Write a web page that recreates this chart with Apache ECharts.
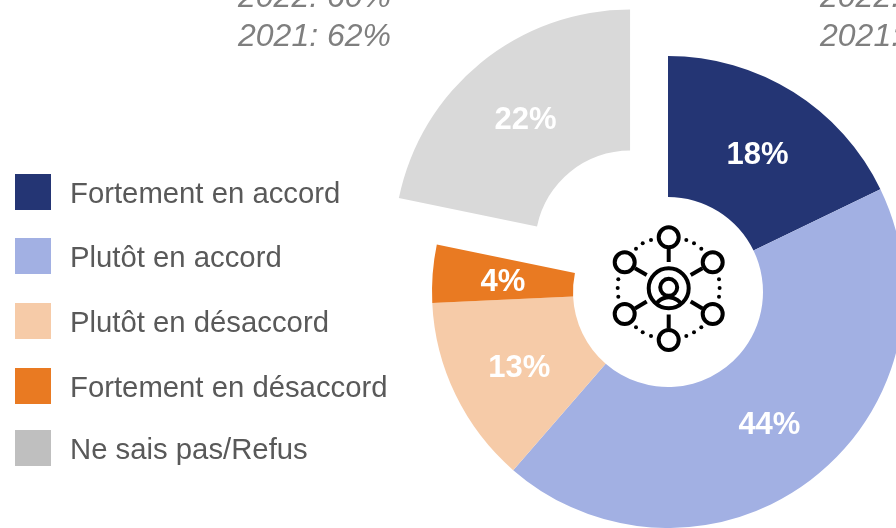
<!DOCTYPE html>
<html>
<head>
<meta charset="utf-8">
<style>html,body{margin:0;padding:0;background:#fff}#c{width:896px;height:528px}</style>
<script src="https://cdn.jsdelivr.net/npm/echarts@6/dist/echarts.min.js"></script>
</head>
<body>
<div id="c"></div>
<script>
const categories = ['Fortement en accord','Plutôt en accord','Plutôt en désaccord','Fortement en désaccord','Ne sais pas/Refus'];
const values = [18,44,13,4,22];
const sliceColors = ['#243574','#A2B0E3','#F6CBA8','#E97A22','#D9D9D9'];
const legendColors = ['#243574','#A2B0E3','#F6CBA8','#E97A22','#BFBFBF'];
const legendTops = [174,238,303,368,430];
const labelNudges = [[0,6],[-1,0],[3,3],[3,4],[2,6]];
const FONT = '"Liberation Sans", Arial, sans-serif';

const chart = echarts.init(document.getElementById('c'), null, {renderer:'canvas'});

const ICON = '#000';
const LW = 4;
function circle(cx,cy,r,lw){return {type:'circle',shape:{cx,cy,r},style:{fill:'#fff',stroke:ICON,lineWidth:lw||LW},z:10};}
function line(x1,y1,x2,y2){return {type:'line',shape:{x1,y1,x2,y2},style:{stroke:ICON,lineWidth:LW},z:10};}
function dot(cx,cy){return {type:'circle',shape:{cx,cy,r:2},style:{fill:ICON},z:10};}
const cx=668.7, cy=288.3;
const iconEls = [
  line(cx,248,cx,262), line(cx,314.5,cx,328.5),
  line(635,268.3,646.7,275), line(702.4,268.3,690.7,275),
  line(635,308.5,646.7,301.5), line(702.4,308.5,690.7,301.5),
  circle(cx,237.3,10), circle(cx,340,10),
  circle(624.7,262.3,10), circle(712.7,262.3,10),
  circle(624.7,314,10), circle(712.7,314,10),
  circle(cx,cy,20),
  circle(cx,287.3,8.5),
  {type:'arc',shape:{cx:cx,cy:312.3,r:15,startAngle:Math.PI*1.2,endAngle:Math.PI*1.8,clockwise:true},style:{stroke:ICON,lineWidth:LW,fill:'none'},z:10},
  dot(636,248.7),dot(642.7,243.3),dot(651,240),dot(686.3,240),dot(694,243.3),dot(701.3,248.7),
  dot(618.3,279.3),dot(617.7,288),dot(618.3,296.7),dot(719,279.3),dot(719.6,288),dot(719,296.7),
  dot(636,327.3),dot(642.7,332.3),dot(651,336),dot(686.3,336),dot(694,332.3),dot(701.3,327.3)
];

function noteText(x,y,text){
  return {type:'text',x,y,style:{text,font:'italic 32px '+FONT,fill:'#7F7F7F',textAlign:'left',textVerticalAlign:'middle'},z:5};
}

chart.setOption({
  animation:false,
  backgroundColor:'#fff',
  legend: categories.map((name,i)=>({
    left:15, top:legendTops[i], orient:'vertical', selectedMode:false, padding:0,
    itemWidth:36,itemHeight:36,icon:'rect',
    data:[{name,itemStyle:{color:legendColors[i]}}],
    formatter:'{t|{name}}',
    textStyle:{fontFamily:FONT,fontSize:29.3,color:'#595959',padding:[0,0,0,14],
      rich:{t:{fontFamily:FONT,fontSize:29.3,color:'#595959',padding:[6,0,0,0]}}}
  })),
  series:[{
    type:'pie',
    center:[668,292],
    radius:[95,236],
    startAngle:90,
    clockwise:true,
    avoidLabelOverlap:false,
    selectedMode:'multiple',
    selectedOffset:60,
    label:{show:true,position:'inside',formatter:'{c}%',fontFamily:FONT,fontSize:31,fontWeight:'bold',color:'#fff'},
    labelLine:{show:false},
    emphasis:{disabled:true},
    data:categories.map((name,i)=>({name,value:values[i],selected:i===4,itemStyle:{color:sliceColors[i]},
      label:{offset:labelNudges[i]},select:{label:{offset:labelNudges[i]}}}))
  }],
  graphic:[
    noteText(238,-2,'2022: 60%'),noteText(238,37,'2021: 62%'),
    noteText(820,-2,'2022:'),noteText(820,37,'2021:'),
    ...iconEls
  ]
});
</script>
</body>
</html>
